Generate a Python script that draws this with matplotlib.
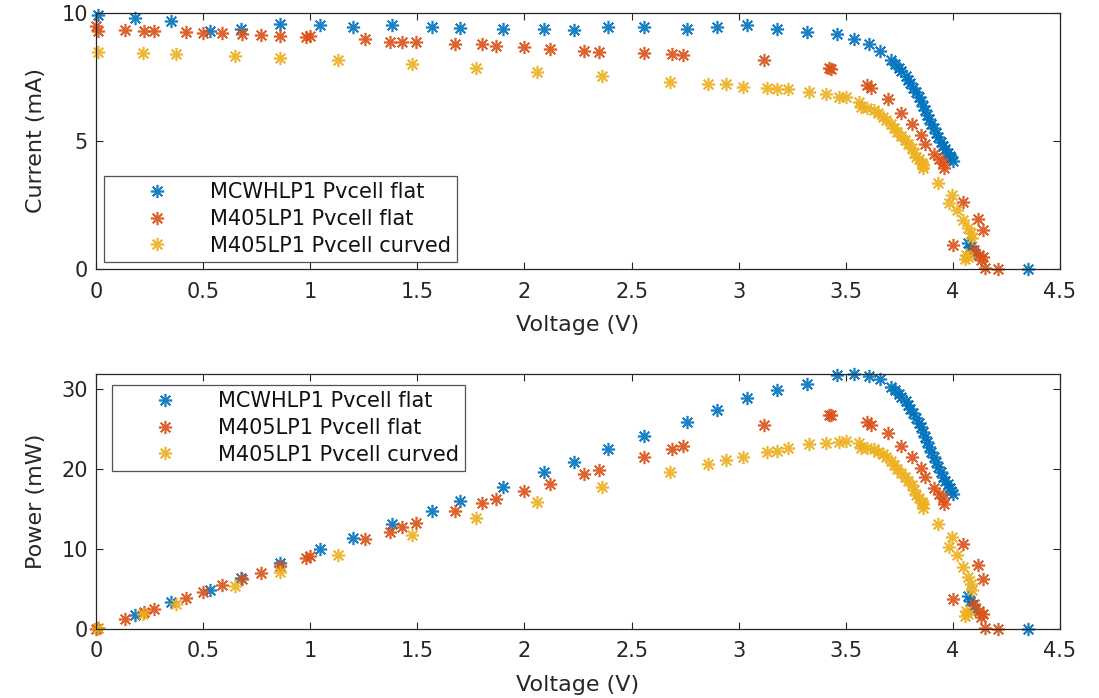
import numpy as np
import matplotlib
matplotlib.use('Agg')
import matplotlib.pyplot as plt

plt.rcParams['font.family'] = ['DejaVu Sans']

# MCWHLP1 Pvcell flat
blue_v = [0.01, 0.18, 0.35, 0.53, 0.675, 0.86, 1.046, 1.20, 1.38, 1.57, 1.70,
          1.90, 2.09, 2.23, 2.39, 2.56, 2.76, 2.90, 3.04, 3.18, 3.32, 3.46,
          3.54, 3.61, 3.66, 3.71, 3.73, 3.75, 3.76, 3.78, 3.79, 3.80, 3.815,
          3.83, 3.84, 3.85, 3.86, 3.87, 3.88, 3.89, 3.90, 3.91, 3.92, 3.93,
          3.945, 3.955, 3.965, 3.975, 3.985, 3.99, 4.00, 4.07, 4.08, 4.09,
          4.10, 4.35]
blue_i = [9.92, 9.79, 9.70, 9.31, 9.36, 9.57, 9.52, 9.47, 9.52, 9.44, 9.42,
          9.36, 9.39, 9.34, 9.44, 9.44, 9.39, 9.44, 9.52, 9.39, 9.24, 9.18,
          9.00, 8.78, 8.53, 8.16, 8.00, 7.85, 7.72, 7.55, 7.40, 7.25, 7.08,
          6.90, 6.72, 6.55, 6.38, 6.20, 6.02, 5.85, 5.68, 5.50, 5.32, 5.15,
          4.98, 4.82, 4.68, 4.55, 4.42, 4.32, 4.22, 1.00, 0.86, 0.74,
          0.62, 0.00]
blue_p = [0.10, 1.76, 3.40, 4.93, 6.32, 8.23, 9.96, 11.36, 13.14, 14.82, 16.01,
          17.78, 19.63, 20.83, 22.56, 24.17, 25.92, 27.38, 28.94, 29.86, 30.68,
          31.76, 31.86, 31.70, 31.22, 30.27, 29.84, 29.44, 29.03, 28.54, 28.05,
          27.55, 27.01, 26.43, 25.80, 25.22, 24.63, 23.99, 23.36, 22.76, 22.15,
          21.51, 20.85, 20.24, 19.65, 19.06, 18.56, 18.09, 17.61, 17.24, 16.88,
          4.07, 3.51, 3.03, 2.54, 0.00]

# M405LP1 Pvcell flat
orange_v = [0.0, 0.01, 0.135, 0.225, 0.27, 0.42, 0.50, 0.59, 0.68, 0.77, 0.86,
            0.98, 1.00, 1.255, 1.37, 1.43, 1.495, 1.675, 1.80, 1.865, 2.00,
            2.12, 2.28, 2.35, 2.56, 2.69, 2.74, 3.12, 3.42, 3.43, 3.60, 3.62,
            3.695, 3.76, 3.81, 3.85, 3.87, 3.91, 3.935, 3.955, 3.96, 4.045,
            4.115, 4.14, 4.00, 4.10, 4.12, 4.14, 4.13, 4.15, 4.21]
orange_i = [9.50, 9.30, 9.34, 9.30, 9.30, 9.27, 9.23, 9.23, 9.18, 9.15, 9.10,
            9.07, 9.10, 8.98, 8.88, 8.88, 8.86, 8.79, 8.78, 8.71, 8.66,
            8.58, 8.53, 8.49, 8.42, 8.39, 8.36, 8.16, 7.84, 7.80, 7.19, 7.06,
            6.64, 6.09, 5.65, 5.23, 4.90, 4.50, 4.30, 4.13, 3.94, 2.63,
            1.94, 1.52, 0.94, 0.75, 0.55, 0.45, 0.35, 0.03, 0.00]
orange_p = [0.0, 0.09, 1.26, 2.09, 2.51, 3.89, 4.62, 5.45, 6.24, 7.05, 7.83,
            8.89, 9.10, 11.27, 12.17, 12.70, 13.25, 14.72, 15.80, 16.24, 17.32,
            18.19, 19.45, 19.95, 21.56, 22.57, 22.91, 25.46, 26.81, 26.75, 25.88,
            25.56, 24.53, 22.90, 21.53, 20.14, 18.96, 17.60, 16.92, 16.33, 15.60,
            10.64, 7.98, 6.29, 3.76, 3.08, 2.27, 1.86, 1.45, 0.12, 0.00]

# M405LP1 Pvcell curved
yellow_v = [0.007, 0.22, 0.375, 0.65, 0.86, 1.13, 1.475, 1.775, 2.06, 2.36,
            2.68, 2.855, 2.94, 3.02, 3.13, 3.18, 3.23, 3.33, 3.41, 3.47, 3.50,
            3.56, 3.57, 3.60, 3.63, 3.65, 3.675, 3.69, 3.71, 3.725, 3.74, 3.76,
            3.775, 3.79, 3.81, 3.82, 3.83, 3.84, 3.855, 3.86, 3.86, 3.93,
            3.995, 3.98, 4.02, 4.045, 4.07, 4.085, 4.09, 4.06, 4.055, 4.07]
yellow_i = [8.49, 8.42, 8.40, 8.32, 8.23, 8.16, 8.00, 7.84, 7.71, 7.54,
            7.32, 7.21, 7.21, 7.12, 7.06, 7.02, 7.02, 6.93, 6.84, 6.73, 6.71,
            6.54, 6.34, 6.30, 6.21, 6.08, 5.95, 5.82, 5.66, 5.50, 5.36, 5.20,
            5.04, 4.88, 4.71, 4.55, 4.39, 4.28, 4.13, 4.05, 3.93, 3.35,
            2.89, 2.57, 2.30, 1.91, 1.59, 1.39, 1.20, 0.55, 0.40, 0.45]
yellow_p = [0.06, 1.85, 3.15, 5.41, 7.08, 9.22, 11.80, 13.92, 15.88, 17.79,
            19.62, 20.58, 21.20, 21.50, 22.10, 22.32, 22.67, 23.08, 23.32, 23.35,
            23.49, 23.28, 22.63, 22.68, 22.54, 22.19, 21.87, 21.48, 21.00, 20.49,
            20.05, 19.55, 19.03, 18.50, 17.95, 17.38, 16.81, 16.44, 15.92, 15.63,
            15.17, 13.17, 11.55, 10.23, 9.25, 7.73, 6.47, 5.68, 4.91, 2.23,
            1.62, 1.83]

labels = ['MCWHLP1 Pvcell flat', 'M405LP1 Pvcell flat', 'M405LP1 Pvcell curved']
colors = ['#0072BD', '#D95319', '#EDB120']
x_ticks = [0, 0.5, 1, 1.5, 2, 2.5, 3, 3.5, 4, 4.5]
x_tick_labels = ['0', '0.5', '1', '1.5', '2', '2.5', '3', '3.5', '4', '4.5']

grey = '#262626'
star = (8, 2, 0)

fig = plt.figure(figsize=(10.99, 6.98), dpi=100)
ax1 = fig.add_axes([0.0874, 0.6146, 0.8771, 0.3668])
ax2 = fig.add_axes([0.0874, 0.0989, 0.8771, 0.3653])

series = [(blue_v, blue_i, blue_p), (orange_v, orange_i, orange_p),
          (yellow_v, yellow_i, yellow_p)]

for (v, i, p), c, lab in zip(series, colors, labels):
    ax1.plot(v, i, linestyle='none', marker=star, markersize=9.5,
             markeredgewidth=1.2, color=c, alpha=0.9, label=lab, clip_on=False)
    ax2.plot(v, p, linestyle='none', marker=star, markersize=9.5,
             markeredgewidth=1.2, color=c, alpha=0.9, label=lab, clip_on=False)

ax1.set_ylim(0, 10)
ax1.set_yticks([0, 5, 10])
ax1.set_ylabel('Current (mA)', fontsize=16, color=grey, labelpad=11)
ax2.set_ylim(0, 31.9)
ax2.set_yticks([0, 10, 20, 30])
ax2.set_ylabel('Power (mW)', fontsize=16, color=grey, labelpad=11)

legend_pos = [(0.0946, 0.7479), (0.1019, 0.4484)]
for ax, pos in zip([ax1, ax2], legend_pos):
    ax.set_xlim(0, 4.5)
    ax.set_xticks(x_ticks)
    ax.set_xticklabels(x_tick_labels)
    ax.set_xlabel('Voltage (V)', fontsize=16, color=grey, labelpad=10)
    ax.tick_params(direction='in', top=True, right=True, length=5,
                   width=0.8, colors=grey, labelsize=15)
    ax.tick_params(axis='x', pad=9)
    ax.tick_params(axis='y', pad=6)
    for s in ax.spines.values():
        s.set_color(grey)
        s.set_linewidth(0.9)
    leg = ax.legend(loc='upper left', bbox_to_anchor=pos,
                    bbox_transform=fig.transFigure, borderaxespad=0,
                    fontsize=15, frameon=True, fancybox=False,
                    edgecolor=grey, handlelength=4.5, handletextpad=0.3,
                    labelspacing=0.32, borderpad=0.3, numpoints=1)
    leg.get_frame().set_linewidth(0.9)
    for t in leg.get_texts():
        t.set_color('#111111')

fig.savefig('out.png', dpi=100)
